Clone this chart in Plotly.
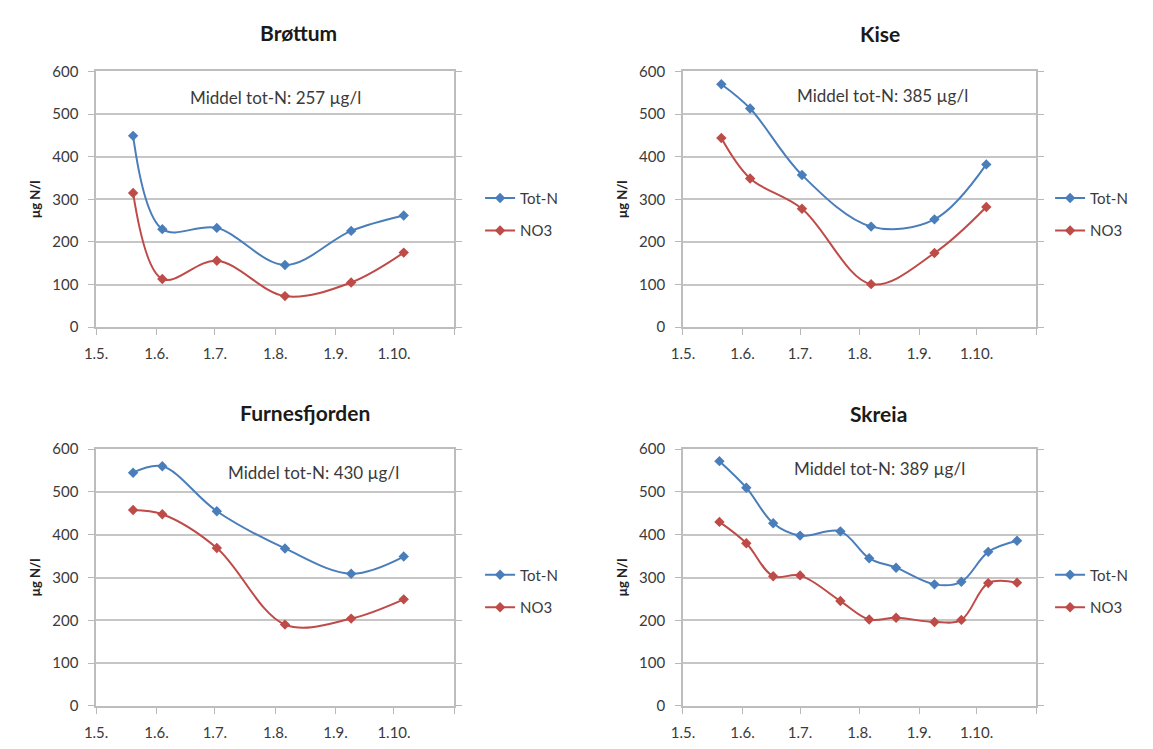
import plotly.graph_objects as go

# Month ticks on the date axis
month_ticks = ["2012-05-01", "2012-06-01", "2012-07-01", "2012-08-01",
               "2012-09-01", "2012-10-01", "2012-11-01"]
month_labels = ["1.5.", "1.6.", "1.7.", "1.8.", "1.9.", "1.10.", ""]

# Station titles and mean tot-N text
stations = ["Brøttum", "Kise", "Furnesfjorden", "Skreia"]
mean_totn = [257, 385, 430, 389]

# Sampling dates and concentrations (µg N/l)
brottum_dates = ["2012-05-20", "2012-06-04", "2012-07-02", "2012-08-06", "2012-09-09", "2012-10-06"]
brottum_totn = [449, 230, 233, 146, 226, 262]
brottum_no3 = [315, 113, 156, 73, 105, 175]

kise_dates = ["2012-05-21", "2012-06-05", "2012-07-02", "2012-08-07", "2012-09-09", "2012-10-06"]
kise_totn = [570, 513, 357, 236, 253, 382]
kise_no3 = [444, 349, 278, 101, 174, 282]

furnes_dates = ["2012-05-20", "2012-06-04", "2012-07-02", "2012-08-06", "2012-09-09", "2012-10-06"]
furnes_totn = [545, 560, 455, 368, 309, 349]
furnes_no3 = [458, 448, 369, 190, 204, 249]

skreia_dates = ["2012-05-20", "2012-06-03", "2012-06-17", "2012-07-01", "2012-07-22", "2012-08-06",
                "2012-08-20", "2012-09-09", "2012-09-23", "2012-10-07", "2012-10-22"]
skreia_totn = [572, 510, 427, 398, 408, 345, 323, 284, 290, 360, 386]
skreia_no3 = [430, 380, 303, 305, 245, 202, 206, 196, 201, 287, 288]

series = [
    (brottum_dates, brottum_totn, brottum_no3),
    (kise_dates, kise_totn, kise_no3),
    (furnes_dates, furnes_totn, furnes_no3),
    (skreia_dates, skreia_totn, skreia_no3),
]

W, H = 1153, 749
BLUE = "#4A7EBB"
RED = "#BE4B48"
FONT = "Lato, Calibri, Carlito, sans-serif"
TEXT = "#3a3a3a"

# Panel geometry in pixels: (left, right, top, bottom)
panels = [
    (85, 447, 63, 325),
    (678, 1035, 63, 325),
    (85, 447, 450, 713),
    (678, 1035, 450, 713),
]
legend_pos = [(473, 176), (1049, 176), (473, 562), (1049, 562)]
title_pos = [(290, 23), (877, 24), (296, 412), (876, 413)]
note_pos = [(266, 90), (880, 88), (305, 474), (877, 470)]

fig = go.Figure()

for i, (dates, totn, no3) in enumerate(series):
    k = "" if i == 0 else str(i + 1)
    leg = "legend" + k
    for name, vals, col in (("Tot-N", totn, BLUE), ("NO3", no3, RED)):
        fig.add_trace(go.Scatter(
            x=dates, y=vals, name=name, mode="lines+markers",
            line=dict(color=col, width=2, shape="spline", smoothing=1.0),
            marker=dict(symbol="diamond", size=8, color=col),
            xaxis="x" + k, yaxis="y" + k, legend=leg,
            legendgroup=name + k, showlegend=True,
        ))

layout = dict(
    width=W, height=H,
    margin=dict(l=0, r=0, t=0, b=0),
    paper_bgcolor="white", plot_bgcolor="white",
    font=dict(family=FONT, size=15, color=TEXT),
    annotations=[], showlegend=True,
)

for i, (l, r, t, b) in enumerate(panels):
    k = "" if i == 0 else str(i + 1)
    layout["xaxis" + k] = dict(
        domain=[l / W, r / W], anchor="y" + k, type="date",
        range=[month_ticks[0], month_ticks[-1]],
        tickmode="array", tickvals=month_ticks, ticktext=month_labels,
        ticks="outside", ticklen=6, tickcolor="#b8b8b8", tickwidth=1,
        ticklabelstandoff=6,
        showline=True, linecolor="#bdbdbd", linewidth=1.5, mirror=True,
        showgrid=False, zeroline=False,
        tickfont=dict(family=FONT, size=15, color=TEXT),
    )
    layout["yaxis" + k] = dict(
        domain=[1 - b / H, 1 - t / H], anchor="x" + k,
        range=[0, 600], tickmode="linear", tick0=0, dtick=100,
        ticks="outside", ticklen=6, tickcolor="#b8b8b8", tickwidth=1,
        ticklabelstandoff=7,
        showline=True, linecolor="#bdbdbd", linewidth=1.5, mirror="ticks",
        showgrid=True, gridcolor="#c6c6c6", gridwidth=1.5, zeroline=False,
        tickfont=dict(family=FONT, size=15, color=TEXT),
        title=dict(text="<b>µg N/l</b>", standoff=9,
                   font=dict(family=FONT, size=13, color="#222")),
    )
    lx, ly = legend_pos[i]
    layout["legend" + k] = dict(
        x=lx / W, y=1 - ly / H, xanchor="left", yanchor="top",
        bgcolor="rgba(0,0,0,0)", tracegroupgap=10,
        font=dict(family=FONT, size=15, color=TEXT),
        itemclick=False, itemdoubleclick=False,
    )
    tx, ty = title_pos[i]
    layout["annotations"].append(dict(
        text="<b>" + stations[i] + "</b>", x=tx / W, y=1 - ty / H,
        xref="paper", yref="paper", showarrow=False,
        xanchor="center", yanchor="middle",
        font=dict(family=FONT, size=21, color="#1a1a1a"),
    ))
    nx, ny = note_pos[i]
    layout["annotations"].append(dict(
        text=f"Middel tot-N: {mean_totn[i]} µg/l", x=nx / W, y=1 - ny / H,
        xref="paper", yref="paper", showarrow=False,
        xanchor="center", yanchor="middle",
        font=dict(family=FONT, size=17, color=TEXT),
    ))

fig.update_layout(**layout)
fig.write_html("out.html")
